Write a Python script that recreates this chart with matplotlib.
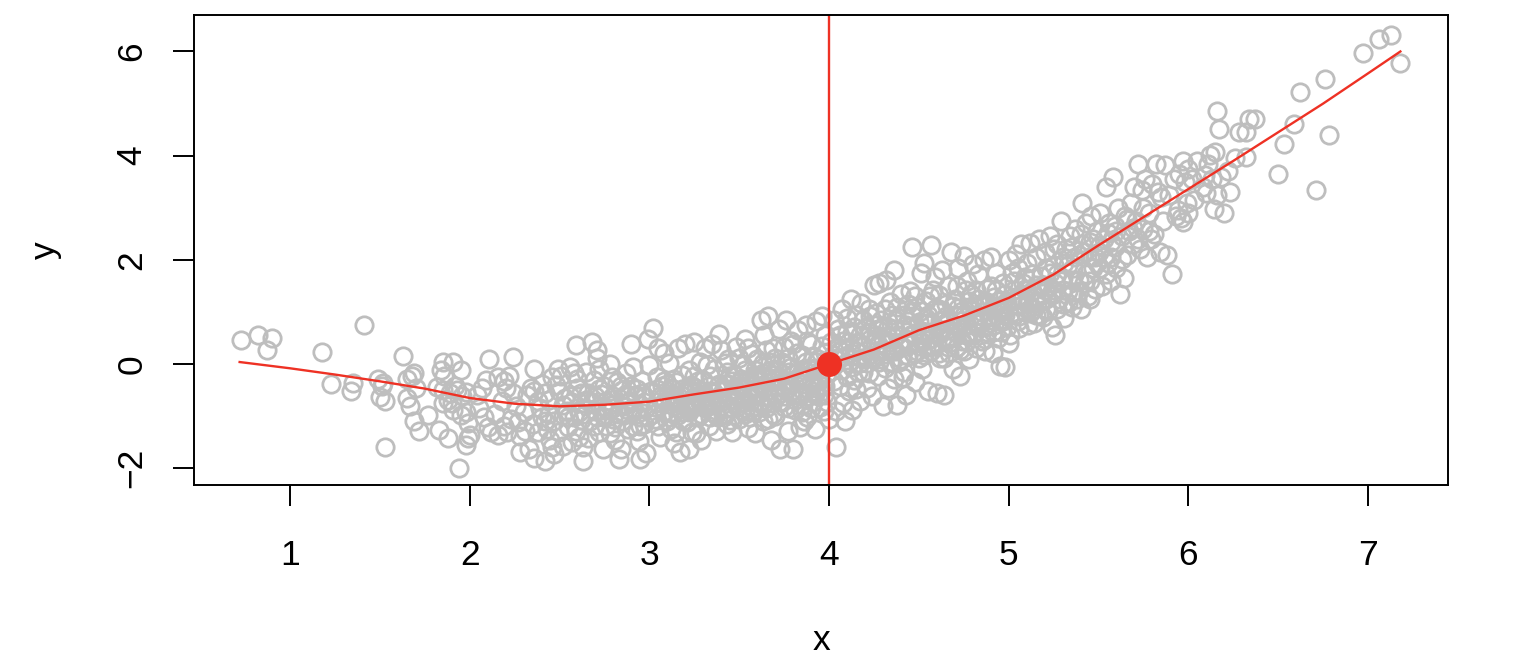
import numpy as np
import matplotlib
matplotlib.use("Agg")
import matplotlib.pyplot as plt

#--------config begin--------
grey = "#bebebe"
red = "#ee3124"
plt.rcParams["font.family"] = ["Liberation Sans", "DejaVu Sans"]
#--------config end--------

# points, band by band along x
left_tail = [
  (.73,.47),(.82,.56),(.90,.50),(.87,.27),(1.18,.24),(1.41,.75),(1.23,-.38),(1.35,-.36),(1.34,-.52),
  (1.49,-.29),(1.52,-.36),(1.51,-.42),(1.50,-.64),(1.53,-.71),(1.53,-1.59),(1.63,.15),(1.69,-.17),
  (1.68,-.23),(1.65,-.29),(1.70,-.46),(1.65,-.65),(1.67,-.81),(1.69,-1.09),(1.72,-1.29),(1.77,-.97),
  (1.82,-.44),(1.85,.04),(1.91,.04),(1.95,-.12),(1.84,-.12),(1.86,-.22),(1.85,-.50),(1.93,-.50),(1.98,-.53),
  (1.88,-.69),(1.85,-.75),(1.91,-.88),(1.95,-.98),(1.98,-.92),(1.83,-1.27),(1.88,-1.42),(2.00,-1.36),
  (1.99,-1.42),(1.98,-1.55),(1.94,-2.00),(1.99,-1.13),(1.92,-.42),(1.89,-.55),(1.96,-.62),(1.90,-.75),
]
band_2_3 = [
  (2.11,.10),(2.24,.13),(2.36,-.10),(2.59,.37),(2.68,.43),(2.71,.27),(2.71,.12),(2.07,-.45),(2.09,-.30),
  (2.16,-.25),(2.19,-.32),(2.22,-.22),(2.20,-.45),(2.04,-.60),(2.05,-.85),(2.08,-1.02),(2.10,-1.20),
  (2.12,-1.30),(2.14,-.95),(2.16,-1.36),(2.19,-1.18),(2.21,-1.30),(2.23,-1.05),(2.18,-.70),(2.24,-.55),
  (2.26,-.80),(2.28,-1.38),(2.28,-1.68),(2.33,-1.62),(2.36,-1.80),(2.42,-1.85),(2.47,-1.72),(2.30,-.92),
  (2.32,-.60),(2.34,-.45),(2.38,-.70),(2.40,-.38),(2.42,-.55),(2.44,-.95),(2.46,-.25),(2.48,-.40),
  (2.49,-.10),(2.51,-.22),(2.53,-.65),(2.35,-1.15),(2.38,-1.30),(2.40,-1.02),(2.43,-1.25),(2.45,-1.45),
  (2.47,-1.10),(2.50,-1.30),(2.52,-1.58),(2.55,-1.20),(2.54,-.90),(2.56,-.05),(2.58,-.18),(2.60,-.45),
  (2.62,-.75),(2.58,-1.02),(2.61,-1.40),(2.63,-1.60),(2.63,-1.85),(2.57,-1.50),(2.65,-.15),(2.66,-.55),
  (2.67,-1.10),(2.69,-.30),(2.70,-.90),(2.72,-1.30),(2.74,-1.62),(2.72,-.10),(2.75,-.42),(2.76,-.70),
  (2.78,.00),(2.79,-.25),(2.80,-1.05),(2.81,-1.45),(2.83,-1.82),(2.84,-1.62),(2.85,-.50),(2.86,-.80),
  (2.87,-.18),(2.88,-1.25),(2.90,.38),(2.91,-.05),(2.92,-.60),(2.93,-.95),(2.94,-1.48),(2.95,-1.82),
  (2.96,-.32),(2.97,-1.15),(2.98,-1.70),(2.99,.48),(3.00,-.02),(2.76,-1.18),(2.68,-.72),(2.52,-.78),
  (2.44,-.68),(2.36,-.52),(2.27,-1.12),(2.31,-1.28),(2.56,-.62),(2.64,-.95),(2.73,-.58),(2.82,-.35),
  (2.89,-.70),(2.98,-.85),(2.46,-1.60),(2.59,-1.28),(2.77,-.88),(2.85,-1.10),(2.93,-1.28),(2.66,-1.42),
  (2.39,-.85),(2.50,-.52),(2.60,-.28),(2.71,-1.02),(2.80,-.62),(2.90,-.42),(2.95,-1.02),(2.83,-.95),
  (2.55,-1.02),(2.42,-1.10),(2.62,-1.08),(2.74,-.82),(2.91,-1.18),(2.87,-.58),(2.97,-.62),(2.78,-1.32),
]
band_3_4 = [
  (3.02,.70),(3.05,.30),(3.08,.22),(3.04,-.25),(3.03,-1.05),(3.06,-1.40),(3.07,-.65),(3.09,-.90),(3.11,.02),
  (3.12,-1.25),(3.13,-.48),(3.14,-1.52),(3.15,-.72),(3.16,.30),(3.17,-1.68),(3.18,-.20),(3.19,-1.10),
  (3.20,.38),(3.21,-.85),(3.22,-1.62),(3.23,-.40),(3.24,-1.30),(3.25,.42),(3.26,-.62),(3.27,-1.02),
  (3.28,.05),(3.29,-1.45),(3.30,-.30),(3.31,.30),(3.32,-.80),(3.33,-1.18),(3.34,-.52),(3.35,.38),(3.36,-.10),
  (3.37,-1.28),(3.38,-.70),(3.39,.58),(3.40,.28),(3.41,-.95),(3.42,-.38),(3.43,-1.15),(3.44,.10),(3.45,-.60),
  (3.46,-1.30),(3.47,-.20),(3.48,.32),(3.49,-.82),(3.50,-1.05),(3.51,-.48),(3.52,-.02),(3.53,.48),(3.54,-.68),
  (3.55,-1.22),(3.56,-.30),(3.57,.20),(3.58,-.90),(3.59,-1.32),(3.60,.10),(3.61,-.55),(3.62,.85),(3.63,-1.10),
  (3.64,.55),(3.65,-.22),(3.66,.92),(3.67,-.75),(3.68,-1.45),(3.69,.30),(3.70,-1.00),(3.71,-.42),(3.72,.68),
  (3.73,-1.62),(3.74,.05),(3.75,-.62),(3.76,.85),(3.77,-1.28),(3.78,-.15),(3.79,.45),(3.80,-1.62),(3.81,-.88),
  (3.82,-.32),(3.83,.65),(3.84,-1.20),(3.85,.18),(3.86,-.55),(3.87,.75),(3.88,-1.02),(3.89,-.10),(3.90,.38),
  (3.91,-.72),(3.92,-1.25),(3.93,.82),(3.94,.10),(3.95,-.40),(3.96,.92),(3.97,-.90),(3.98,.55),(3.99,-.18),
  (4.00,-1.05),(3.04,-.48),(3.10,-1.10),(3.14,-.28),(3.18,-.92),(3.22,-.12),(3.26,-1.32),(3.30,-.58),
  (3.34,-.22),(3.38,-1.02),(3.42,.02),(3.46,-.85),(3.50,.12),(3.54,-.32),(3.58,-.48),(3.62,-.70),(3.66,-1.05),
  (3.70,.12),(3.74,-.42),(3.78,-.85),(3.82,.22),(3.86,-1.10),(3.90,-.32),(3.94,-.62),(3.98,.22),(3.12,-.70),
  (3.20,-.55),(3.28,-.75),(3.36,-.55),(3.44,-.38),(3.52,-.75),(3.60,-.25),(3.68,-.12),(3.76,-.02),(3.84,-.22),
  (3.92,-.08),(3.16,-.98),(3.24,-.85),(3.32,-.02),(3.40,-.72),(3.48,-.58),(3.56,-1.02),(3.64,-.45),(3.72,-.72),
  (3.80,.38),(3.88,.45),(3.96,.35),(3.08,-.32),(3.15,-1.30),(3.25,-.22),(3.35,-.92),(3.45,-1.08),(3.55,.30),
  (3.65,.28),(3.75,.32),(3.85,-.78),(3.95,-.82),(3.53,-.95),(3.61,-.92),(3.69,-.58),(3.77,.12),(3.85,-.38),
  (3.93,-.45),(3.43,-.15),(3.33,-.68),(3.23,-.68),(3.13,-.95),(3.47,-.48),(3.57,-.62),(3.67,.05),(3.73,-.25),
  (3.79,-.52),(3.87,.05),(3.91,.15),(3.97,-.60),(3.63,.02),(3.59,-.12),(3.41,-.52),(3.51,-.28),(3.31,-.85),
]
band_4_5 = [
  (4.03,.85),(4.04,-.90),(4.04,-1.60),(4.05,.30),(4.06,-.42),(4.07,1.05),(4.08,-.75),(4.09,-1.10),(4.10,.62),
  (4.11,.02),(4.12,1.25),(4.13,-.88),(4.14,-.30),(4.15,.95),(4.16,.42),(4.17,-.70),(4.18,1.18),(4.19,-.15),
  (4.20,.70),(4.21,-.45),(4.22,1.05),(4.23,.18),(4.24,-.62),(4.25,1.52),(4.26,.55),(4.27,-.22),(4.28,1.55),
  (4.29,.85),(4.30,-.80),(4.31,.28),(4.32,1.62),(4.33,-.45),(4.34,1.20),(4.35,.05),(4.36,1.80),(4.37,.68),
  (4.38,-.78),(4.39,.40),(4.40,1.35),(4.41,-.25),(4.42,.95),(4.43,-.60),(4.44,.15),(4.45,1.40),(4.46,2.25),
  (4.47,.55),(4.48,-.35),(4.49,1.10),(4.50,.80),(4.51,1.75),(4.52,-.10),(4.53,1.95),(4.54,.32),(4.55,-.52),
  (4.56,1.30),(4.57,2.28),(4.58,.62),(4.59,1.68),(4.60,-.55),(4.61,1.05),(4.62,.12),(4.63,1.80),(4.64,-.60),
  (4.65,.48),(4.66,1.50),(4.67,.85),(4.68,2.15),(4.69,-.10),(4.70,1.25),(4.71,.32),(4.72,1.85),(4.73,-.22),
  (4.74,1.02),(4.75,2.08),(4.76,.55),(4.77,1.60),(4.78,.10),(4.79,1.35),(4.80,1.92),(4.81,.78),(4.82,.30),
  (4.83,1.72),(4.84,1.15),(4.85,.45),(4.86,2.00),(4.87,.25),(4.88,1.45),(4.89,.90),(4.90,2.05),(4.91,.22),
  (4.92,1.28),(4.93,1.75),(4.94,.50),(4.95,-.03),(4.96,1.05),(4.97,1.55),(4.98,-.05),(4.99,.72),(5.00,2.00),
  (4.05,.08),(4.10,-.25),(4.15,-.48),(4.20,.10),(4.25,.75),(4.30,.48),(4.35,.95),(4.40,.10),(4.45,.72),
  (4.50,.12),(4.55,.95),(4.60,.38),(4.65,1.15),(4.70,.62),(4.75,.25),(4.80,.55),(4.85,1.00),(4.90,1.50),
  (4.95,.85),(5.00,.40),(4.08,.45),(4.13,.60),(4.18,.35),(4.23,.92),(4.28,.05),(4.33,.72),(4.38,1.10),
  (4.43,.48),(4.48,1.30),(4.53,.62),(4.58,1.42),(4.63,.85),(4.68,.42),(4.73,.82),(4.78,1.22),(4.83,.95),
  (4.88,.62),(4.93,1.12),(4.98,1.35),(4.12,.22),(4.17,.02),(4.22,-.18),(4.27,.38),(4.32,.20),(4.37,.25),
  (4.42,-.15),(4.47,.22),(4.52,.42),(4.57,.25),(4.62,.58),(4.67,.22),(4.72,1.08),(4.77,.75),(4.82,1.42),
  (4.87,1.22),(4.92,.75),(4.97,1.10),(4.06,.55),(4.16,-.15),(4.26,.98),(4.36,-.28),(4.46,1.02),(4.56,.48),
  (4.66,.68),(4.76,1.42),(4.86,.72),(4.96,.62),(4.11,-.52),(4.21,.28),(4.31,1.05),(4.41,.68),(4.51,1.02),
  (4.61,1.32),(4.71,1.50),(4.81,1.12),(4.91,1.05),(4.34,.42),(4.44,1.15),(4.54,1.22),(4.64,.12),(4.74,.45),
]
band_5_6 = [
  (5.01,.55),(5.02,1.75),(5.03,.95),(5.04,2.12),(5.05,1.30),(5.06,.70),(5.07,2.30),(5.08,1.55),(5.09,1.00),
  (5.10,1.95),(5.11,.75),(5.12,2.32),(5.13,1.40),(5.14,.78),(5.15,2.05),(5.16,1.18),(5.17,2.40),(5.18,1.70),
  (5.19,.90),(5.20,2.15),(5.21,1.05),(5.22,1.50),(5.23,2.45),(5.24,.72),(5.25,1.90),(5.26,.55),(5.27,2.30),
  (5.28,1.25),(5.29,2.75),(5.30,1.65),(5.31,.88),(5.32,2.20),(5.33,1.40),(5.34,2.45),(5.35,1.10),(5.36,1.85),
  (5.37,2.60),(5.38,1.25),(5.39,2.10),(5.40,1.05),(5.41,3.10),(5.42,1.55),(5.43,2.70),(5.44,1.30),(5.45,2.35),
  (5.46,2.85),(5.47,1.85),(5.48,1.45),(5.49,2.55),(5.50,2.15),(5.51,2.90),(5.52,1.50),(5.53,2.40),(5.54,3.40),
  (5.55,1.95),(5.56,2.70),(5.57,1.60),(5.58,3.60),(5.59,2.25),(5.60,1.85),(5.61,3.00),(5.62,1.35),(5.63,2.45),
  (5.64,1.65),(5.65,2.85),(5.66,2.10),(5.67,2.55),(5.68,3.10),(5.69,2.30),(5.70,3.40),(5.71,2.75),(5.72,3.85),
  (5.73,2.20),(5.74,3.35),(5.75,2.60),(5.76,3.55),(5.77,2.05),(5.78,2.90),(5.79,2.40),(5.80,3.45),(5.81,2.50),
  (5.82,3.85),(5.83,3.30),(5.84,2.15),(5.85,3.20),(5.86,2.75),(5.87,3.82),(5.88,2.10),(5.89,3.25),(5.91,1.72),
  (5.92,3.55),(5.93,2.85),(5.94,2.95),(5.95,3.65),(5.96,2.80),(5.97,3.90),(5.97,2.72),(5.98,3.50),(5.99,3.10),
  (6.00,2.90),(5.03,1.42),(5.06,1.12),(5.09,1.68),(5.12,.98),(5.15,1.52),(5.18,1.22),(5.21,1.85),(5.24,1.32),
  (5.27,1.72),(5.30,1.15),(5.33,1.90),(5.36,1.38),(5.39,1.62),(5.42,2.15),(5.45,1.60),(5.48,2.05),(5.51,2.28),
  (5.54,1.72),(5.57,2.35),(5.60,2.55),(5.63,2.02),(5.66,2.78),(5.69,2.62),(5.72,2.40),(5.75,3.00),(5.78,2.55),
  (5.05,1.85),(5.10,1.42),(5.15,.95),(5.20,1.42),(5.25,2.20),(5.30,2.05),(5.35,2.25),(5.40,2.50),(5.45,1.25),
]
right_tail = [
  (6.00,3.75),(6.02,3.55),(6.03,3.15),(6.05,3.90),(6.08,3.40),(6.09,3.62),(6.10,3.28),(6.11,3.85),(6.12,4.02),
  (6.13,3.55),(6.14,2.98),(6.15,4.08),(6.16,4.85),(6.16,3.25),(6.17,4.52),(6.18,3.60),(6.20,2.90),(6.22,3.70),
  (6.23,3.30),(6.26,3.95),(6.28,4.45),(6.32,4.45),(6.32,3.98),(6.34,4.70),(6.37,4.70),(6.50,3.65),(6.53,4.22),
  (6.59,4.60),(6.62,5.22),(6.71,3.35),(6.76,5.48),(6.78,4.40),(6.97,5.97),(7.06,6.24),(7.13,6.32),(7.18,5.77),
]
# the solid middle of the cloud, where single rings can only be estimated
core_low = [
  (2.52,-.98),(2.57,-.72),(2.61,-.92),(2.65,-.68),(2.69,-1.18),(2.72,-.48),(2.75,-1.02),(2.78,-.78),(2.81,-1.20),
  (2.84,-.42),(2.86,-.98),(2.88,-.62),(2.91,-.85),(2.93,-.48),(2.95,-1.18),(2.97,-.72),(2.99,-1.02),(3.01,-.52),
  (3.03,-.82),(3.05,-1.18),(3.07,-.42),(3.09,-.70),(3.11,-1.02),(3.13,-.58),(3.15,-.35),(3.17,-.85),(3.19,-.62),
  (3.21,-1.12),(3.23,-.52),(3.25,-.78),(3.27,-.32),(3.29,-.95),(3.31,-.62),(3.33,-.42),(3.35,-.78),(3.37,-.98),
  (3.39,-.38),(3.41,-.70),(3.43,-.85),(3.45,-.22),(3.47,-.68),(3.49,-.42),(3.51,-.88),(3.53,-.12),(3.55,-.55),
  (3.57,-.82),(3.59,-.30),(3.61,-.72),(3.63,-.18),(3.65,-.85),(3.67,-.42),(3.69,-.95),(3.71,-.10),(3.73,-.55),
  (3.75,-.82),(3.77,-.32),(3.79,-.05),(3.81,-.68),(3.83,-.15),(3.85,-.92),(3.87,-.25),(3.89,-.62),(3.91,-.40),
  (3.93,.05),(3.95,-.22),(3.97,-.02),(3.99,-.72),(3.02,-.95),(3.06,-.62),(3.10,-.38),(3.14,-.80),(3.18,-.48),
  (3.22,-.92),(3.26,-.45),(3.30,-.78),(3.34,-1.02),(3.38,-.50),(3.42,-.98),(3.46,-.32),(3.50,-.62),(3.54,-.85),
  (3.58,-.20),(3.62,-.42),(3.66,-.62),(3.70,-.30),(3.74,-.72),(3.78,-.38),(3.82,-.55),(3.86,-.12),(3.90,-.85),
  (3.94,-.30),(3.98,-.42),(3.60,-.62),(3.68,-.32),(3.76,-.50),(3.84,-.62),(3.92,-.58),(3.44,-.62),(3.52,-.42),
  (3.28,-.50),(3.20,-.78),(3.12,-.45),(3.04,-.72),(2.96,-.55),(2.88,-.88),(2.80,-.85),(2.70,-.62),(2.62,-.55),
]
core_high = [
  (4.01,.42),(4.03,-.32),(4.05,.68),(4.07,-.12),(4.09,.15),(4.11,.42),(4.13,-.05),(4.15,.25),(4.17,.55),
  (4.19,.85),(4.21,.02),(4.23,.48),(4.25,.12),(4.27,.68),(4.29,.28),(4.31,-.08),(4.33,.52),(4.35,.25),(4.37,.85),
  (4.39,.05),(4.41,.32),(4.43,.75),(4.45,.40),(4.47,.92),(4.49,.25),(4.51,.62),(4.53,.18),(4.55,.78),(4.57,.50),
  (4.59,1.05),(4.61,.22),(4.63,.65),(4.65,.92),(4.67,.48),(4.69,1.12),(4.71,.72),(4.73,.28),(4.75,.95),(4.77,.45),
  (4.79,1.05),(4.81,.62),(4.83,1.25),(4.85,.82),(4.87,.48),(4.89,1.15),(4.91,.62),(4.93,1.42),(4.95,1.00),
  (4.97,.82),(4.99,1.22),(5.01,.95),(5.03,1.60),(5.05,.82),(5.07,1.28),(5.09,1.45),(5.11,1.15),(5.13,1.72),
  (5.15,1.28),(5.17,.95),(5.19,1.52),(5.21,1.25),(5.23,1.75),(5.25,1.42),(5.27,1.05),(5.29,1.60),(5.31,1.95),
  (5.33,1.18),(5.35,1.62),(5.37,2.05),(5.39,1.40),(5.41,2.30),(5.43,1.72),(5.45,2.05),(5.47,2.40),(5.49,1.95),
  (5.51,1.85),(5.53,2.05),(5.55,2.52),(5.57,2.05),(5.59,2.65),(4.02,.18),(4.06,.28),(4.10,.88),(4.14,.72),
  (4.18,.12),(4.22,.62),(4.26,.25),(4.30,.72),(4.34,.05),(4.38,.55),(4.42,.45),(4.46,.58),(4.50,.35),(4.54,.88),
  (4.58,.35),(4.62,.82),(4.66,.32),(4.70,.95),(4.74,.70),(4.78,.62),(4.82,.78),(4.86,1.12),(4.90,.85),(4.94,1.22),
  (4.98,.95),(5.02,1.22),(5.06,.92),(5.10,1.18),(5.14,1.05),(5.18,1.48),(5.22,1.02),(5.26,1.55),(5.30,1.42),
]

curve_x = [.72,1.0,1.25,1.5,1.75,2.0,2.25,2.5,2.75,3.0,3.25,3.5,3.75,4.0,4.25,4.5,4.75,5.0,5.25,5.5,5.75,6.0,6.25,6.5,6.75,7.0,7.18]
curve_y = [.04,-.08,-.20,-.33,-.47,-.65,-.76,-.81,-.78,-.72,-.58,-.45,-.28,0,.28,.65,.93,1.27,1.72,2.28,2.82,3.36,3.90,4.45,5.0,5.58,6.0]
x_ticks = [1, 2, 3, 4, 5, 6, 7]
y_ticks = [-2, 0, 2, 4, 6]
x0, y0 = 4, 0


if __name__ == "__main__":
  pts = np.array(left_tail + band_2_3 + band_3_4 + band_4_5 + band_5_6 + right_tail + core_low + core_high)

  fig = plt.figure(figsize=(15.14, 6.70), dpi=100)
  ax = fig.add_axes([194 / 1514, 1 - 485 / 670, (1448 - 194) / 1514, (485 - 15) / 670])

  ax.plot(pts[:, 0], pts[:, 1], "o", mfc="none", mec=grey, mew=2.0, ms=12.5, clip_on=False)
  ax.axvline(x0, color=red, lw=1.7)
  ax.plot(curve_x, curve_y, color=red, lw=1.7)
  ax.plot([x0], [y0], "o", color=red, ms=18, mew=0)

  ax.set_xlim(0.466, 7.445)
  ax.set_ylim(-2.32, 6.70)
  ax.set_xticks(x_ticks)
  ax.set_yticks(y_ticks)
  ax.set_yticklabels(["\u2212" + str(-t) if t < 0 else str(t) for t in y_ticks], rotation=90, va="center")
  ax.tick_params(length=15, width=1.4, labelsize=25.5)
  ax.tick_params(axis="x", pad=24)
  ax.tick_params(axis="y", pad=18)
  for s in ax.spines.values():
    s.set_linewidth(1.4)

  ax.set_xlabel("x", fontsize=25.5, labelpad=37)
  ax.set_ylabel("y", fontsize=25.5, labelpad=38)
  fig.savefig("out.png", dpi=100)
